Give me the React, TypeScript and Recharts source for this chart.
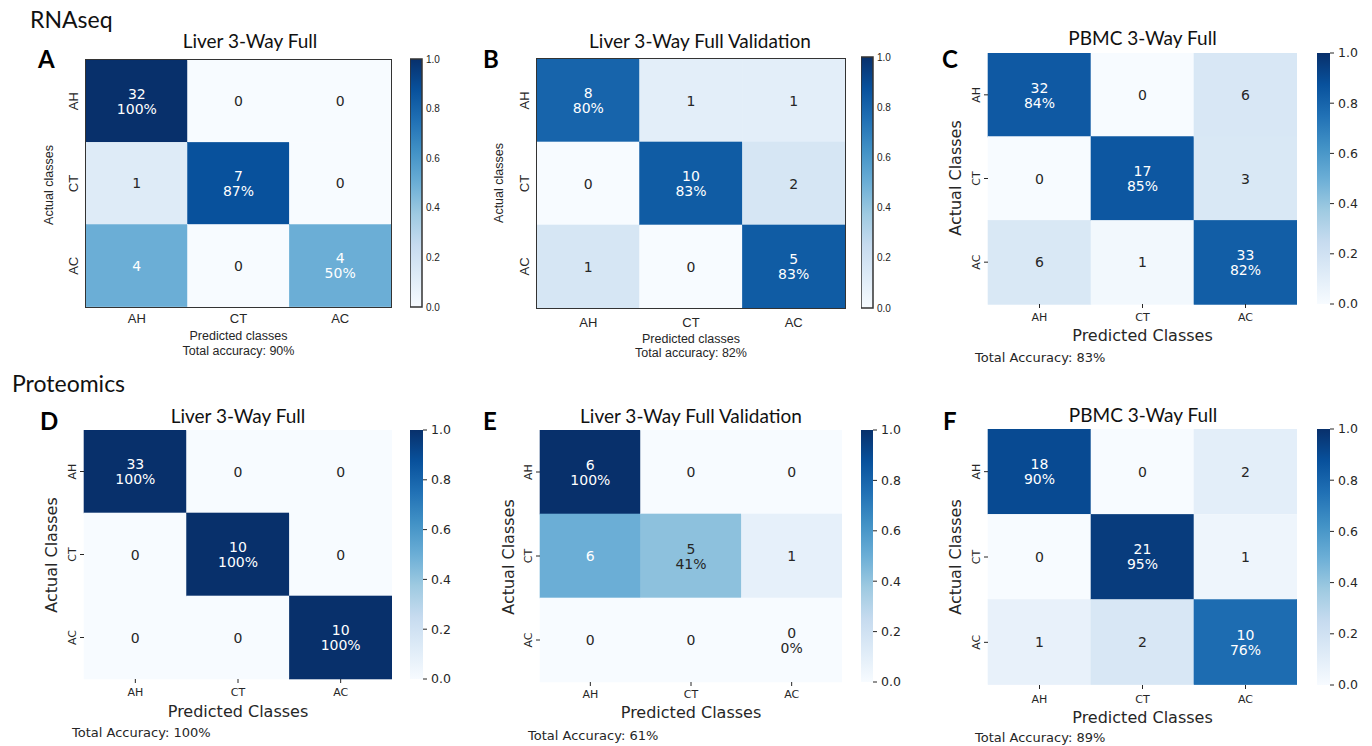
import React from "react";
import { BarChart, Bar, XAxis, YAxis } from "recharts";

// classes on both axes (rows = actual, columns = predicted)
const classes = ["AH", "CT", "AC"];

// confusion matrix counts
const rnaLiverFull = [[32, 0, 0], [1, 7, 0], [4, 0, 4]];
const rnaLiverValidation = [[8, 1, 1], [0, 10, 2], [1, 0, 5]];
const rnaPbmcFull = [[32, 0, 6], [0, 17, 3], [6, 1, 33]];
const protLiverFull = [[33, 0, 0], [0, 10, 0], [0, 0, 10]];
const protLiverValidation = [[6, 0, 0], [6, 5, 1], [0, 0, 0]];
const protPbmcFull = [[18, 0, 2], [0, 21, 1], [1, 2, 10]];

const panelCounts = [rnaLiverFull, rnaLiverValidation, rnaPbmcFull, protLiverFull, protLiverValidation, protPbmcFull];
const panelTitles = ["Liver 3-Way Full", "Liver 3-Way Full Validation", "PBMC 3-Way Full", "Liver 3-Way Full", "Liver 3-Way Full Validation", "PBMC 3-Way Full"];
const panelLetters = ["A", "B", "C", "D", "E", "F"];
const totalAccuracy = [90, 82, 83, 100, 61, 89];
const colorbarTicks = [0, 0.2, 0.4, 0.6, 0.8, 1.0];

// matplotlib "Blues"
const BLUES = ["#f7fbff", "#deebf7", "#c6dbef", "#9ecae1", "#6baed6", "#4292c6", "#2171b5", "#08519c", "#08306b"];

const hexToRgb = (h: string) => [1, 3, 5].map((k) => parseInt(h.slice(k, k + 2), 16));
function blues(t: number) {
  const s = Math.max(0, Math.min(1, t)) * 8;
  const i = Math.min(7, Math.floor(s));
  const f = s - i;
  const a = hexToRgb(BLUES[i]);
  const b = hexToRgb(BLUES[i + 1]);
  const c = a.map((v, k) => Math.round(v + (b[k] - v) * f));
  return `rgb(${c[0]},${c[1]},${c[2]})`;
}

type Box = { x: number; y: number; w: number; h: number };
type Layout = {
  style: "classic" | "seaborn";
  hm: Box;
  cb: Box;
  titleX: number; titleY: number;
  letterX: number; letterY: number;
  xTickDy: number; xLabelY: number;
  accX: number; accY: number;
  yLabelX: number; yLabelY: number;
};

const layouts: Layout[] = [
  { style: "classic", hm: { x: 86, y: 60, w: 305, h: 247 }, cb: { x: 410, y: 59, w: 12, h: 248 }, titleX: 250, titleY: 48, letterX: 38, letterY: 68, xTickDy: 16, xLabelY: 340, accX: 238.5, accY: 355, yLabelX: 49, yLabelY: 185 },
  { style: "classic", hm: { x: 537, y: 59, w: 308, h: 249 }, cb: { x: 861, y: 57, w: 12, h: 251 }, titleX: 700, titleY: 48, letterX: 483, letterY: 68, xTickDy: 19, xLabelY: 343, accX: 691, accY: 357, yLabelX: 499, yLabelY: 183 },
  { style: "seaborn", hm: { x: 988, y: 53, w: 309, h: 251 }, cb: { x: 1317, y: 53, w: 13, h: 251 }, titleX: 1142.5, titleY: 45, letterX: 942, letterY: 68, xTickDy: 17, xLabelY: 341, accX: 975, accY: 362, yLabelX: 955, yLabelY: 178 },
  { style: "seaborn", hm: { x: 84, y: 430, w: 308, h: 249 }, cb: { x: 410, y: 430, w: 13, h: 249 }, titleX: 238, titleY: 423, letterX: 40, letterY: 430, xTickDy: 17, xLabelY: 717, accX: 72, accY: 737, yLabelX: 51, yLabelY: 555 },
  { style: "seaborn", hm: { x: 540, y: 430, w: 302, h: 252 }, cb: { x: 861, y: 430, w: 12, h: 252 }, titleX: 691, titleY: 423, letterX: 483, letterY: 430, xTickDy: 16, xLabelY: 718, accX: 528, accY: 740, yLabelX: 508, yLabelY: 557 },
  { style: "seaborn", hm: { x: 988, y: 429, w: 309, h: 256 }, cb: { x: 1317, y: 429, w: 13, h: 256 }, titleX: 1143, titleY: 422, letterX: 943, letterY: 430, xTickDy: 18, xLabelY: 723, accX: 975, accY: 742, yLabelX: 955, yLabelY: 557 },
];

const DARK = "#262626";
const MPL = "'DejaVu Sans', sans-serif";
const ARIAL = "'Liberation Sans', Arial, sans-serif";
const PPT = "Lato, 'Open Sans', sans-serif";

const LW = 30;
const XH = 30;

function CmCell(props: any) {
  const { x, y, width, height, payload, col } = props;
  const n = payload.n[col];
  const v = payload.sum ? n / payload.sum : 0;
  const fill = blues(v);
  const color = v >= 0.5 ? "#ffffff" : DARK;
  const cx = x + width / 2;
  const cy = y + height / 2;
  const diag = classes.indexOf(payload.row) === col;
  return (
    <g>
      <rect x={x} y={y} width={width} height={height} fill={fill} stroke={fill} strokeWidth={0.6} />
      {diag ? (
        <text x={cx} fill={color} fontFamily={MPL} fontSize={14} textAnchor="middle" dominantBaseline="central">
          <tspan x={cx} y={cy - 7.5}>{n}</tspan>
          <tspan x={cx} y={cy + 7.5}>{`${Math.floor(v * 100)}%`}</tspan>
        </text>
      ) : (
        <text x={cx} y={cy} fill={color} fontFamily={MPL} fontSize={14} textAnchor="middle" dominantBaseline="central">
          {n}
        </text>
      )}
    </g>
  );
}

function Heatmap({ counts, lay }: { counts: number[][]; lay: Layout }) {
  const seaborn = lay.style === "seaborn";
  const data = classes.map((c, i) => ({
    row: c,
    c0: 1,
    c1: 1,
    c2: 1,
    n: counts[i],
    sum: counts[i].reduce((a, b) => a + b, 0),
  }));
  const font = seaborn ? { fontFamily: MPL, fontSize: 11 } : { fontFamily: ARIAL, fontSize: 13 };
  const XTick = (props: any) => (
    <text x={props.x} y={lay.hm.h + lay.xTickDy} textAnchor="middle" fill={DARK} {...font}>
      {classes[Math.floor(props.payload.value)]}
    </text>
  );
  const YTick = (props: any) => (
    <text x={LW - 8} y={props.y} transform={`rotate(-90 ${LW - 8} ${props.y})`} textAnchor="middle" fill={DARK} {...font}>
      {props.payload.value}
    </text>
  );
  return (
    <div style={{ position: "absolute", left: lay.hm.x - LW, top: lay.hm.y }}>
      <BarChart
        layout="vertical"
        width={lay.hm.w + LW}
        height={lay.hm.h + XH}
        data={data}
        margin={{ top: 0, right: 0, bottom: 0, left: 0 }}
        barCategoryGap={0}
        barGap={0}
      >
        <XAxis
          type="number"
          domain={[0, 3]}
          ticks={[0.5, 1.5, 2.5]}
          interval={0}
          height={XH}
          axisLine={false}
          tickLine={seaborn ? { stroke: DARK } : false}
          tickSize={4}
          tick={XTick}
        />
        <YAxis
          type="category"
          dataKey="row"
          width={LW}
          axisLine={false}
          tickLine={seaborn ? { stroke: DARK } : false}
          tickSize={4}
          tick={YTick}
        />
        {classes.map((c, j) => (
          <Bar
            key={c}
            dataKey={`c${j}`}
            stackId="cm"
            isAnimationActive={false}
            shape={(p: any) => <CmCell {...p} col={j} />}
          />
        ))}
      </BarChart>
      {!seaborn && (
        <div
          style={{
            position: "absolute",
            left: LW - 0.75,
            top: -0.75,
            width: lay.hm.w + 1.5,
            height: lay.hm.h + 1.5,
            border: "1.5px solid #333",
            boxSizing: "border-box",
            pointerEvents: "none",
          }}
        />
      )}
    </div>
  );
}

function Colorbar({ lay, id }: { lay: Layout; id: string }) {
  const seaborn = lay.style === "seaborn";
  const PAD = 10;
  const RW = 44;
  const gid = `cbgrad-${id}`;
  return (
    <div style={{ position: "absolute", left: lay.cb.x, top: lay.cb.y - PAD }}>
      <BarChart
        width={lay.cb.w + RW}
        height={lay.cb.h + 2 * PAD}
        data={[{ v: colorbarTicks[colorbarTicks.length - 1] }]}
        margin={{ top: PAD, bottom: PAD, left: 0, right: 0 }}
        barCategoryGap={0}
      >
        <defs>
          <linearGradient id={gid} x1="0" y1="1" x2="0" y2="0">
            {BLUES.map((c, k) => (
              <stop key={k} offset={k / (BLUES.length - 1)} stopColor={c} />
            ))}
          </linearGradient>
        </defs>
        <XAxis type="category" hide />
        <YAxis
          type="number"
          orientation="right"
          domain={[0, 1]}
          ticks={colorbarTicks}
          interval={0}
          width={RW}
          axisLine={false}
          tickLine={seaborn ? { stroke: DARK } : false}
          tickSize={seaborn ? 4 : 2}
          tickMargin={seaborn ? 4 : 2}
          tickFormatter={(v: number) => v.toFixed(1)}
          tick={seaborn ? { fill: DARK, fontSize: 12.5, fontFamily: MPL } : { fill: "#222", fontSize: 10, fontFamily: ARIAL }}
        />
        <Bar
          dataKey="v"
          fill={`url(#${gid})`}
          stroke={seaborn ? "none" : "#333"}
          strokeWidth={1.5}
          isAnimationActive={false}
        />
      </BarChart>
    </div>
  );
}

export default function App() {
  return (
    <div style={{ position: "absolute", left: 0, top: 0, width: 1372, height: 746, background: "#fff", overflow: "hidden" }}>
      {layouts.map((lay, i) => (
        <React.Fragment key={i}>
          <Heatmap counts={panelCounts[i]} lay={lay} />
          <Colorbar lay={lay} id={panelLetters[i]} />
        </React.Fragment>
      ))}
      <svg width={1372} height={746} style={{ position: "absolute", left: 0, top: 0, pointerEvents: "none" }}>
        <text x={30} y={28} fontFamily={PPT} fontSize={23} fill="#111">RNAseq</text>
        <text x={12} y={392} fontFamily={PPT} fontSize={23} fill="#111">Proteomics</text>
        {layouts.map((lay, i) => {
          const seaborn = lay.style === "seaborn";
          const axFont = seaborn ? { fontFamily: MPL, fontSize: 16 } : { fontFamily: ARIAL, fontSize: 12.5 };
          const hmCx = lay.hm.x + lay.hm.w / 2;
          return (
            <g key={i}>
              <text x={lay.titleX} y={lay.titleY} textAnchor="middle" fontFamily={PPT} fontSize={19} fill="#111">
                {panelTitles[i]}
              </text>
              <text x={lay.letterX} y={lay.letterY} fontFamily={PPT} fontWeight={700} fontSize={24} fill="#000">
                {panelLetters[i]}
              </text>
              <text x={hmCx} y={lay.xLabelY} textAnchor="middle" fill={DARK} {...axFont}>
                {seaborn ? "Predicted Classes" : "Predicted classes"}
              </text>
              <text
                x={lay.yLabelX}
                y={lay.yLabelY}
                transform={`rotate(-90 ${lay.yLabelX} ${lay.yLabelY})`}
                textAnchor="middle"
                dominantBaseline="central"
                fill={DARK}
                {...axFont}
              >
                {seaborn ? "Actual Classes" : "Actual classes"}
              </text>
              {seaborn ? (
                <text x={lay.accX} y={lay.accY} fontFamily={MPL} fontSize={13} fill={DARK}>
                  {`Total Accuracy: ${totalAccuracy[i]}%`}
                </text>
              ) : (
                <text x={lay.accX} y={lay.accY} textAnchor="middle" fontFamily={ARIAL} fontSize={12.5} fill={DARK}>
                  {`Total accuracy: ${totalAccuracy[i]}%`}
                </text>
              )}
            </g>
          );
        })}
      </svg>
    </div>
  );
}
